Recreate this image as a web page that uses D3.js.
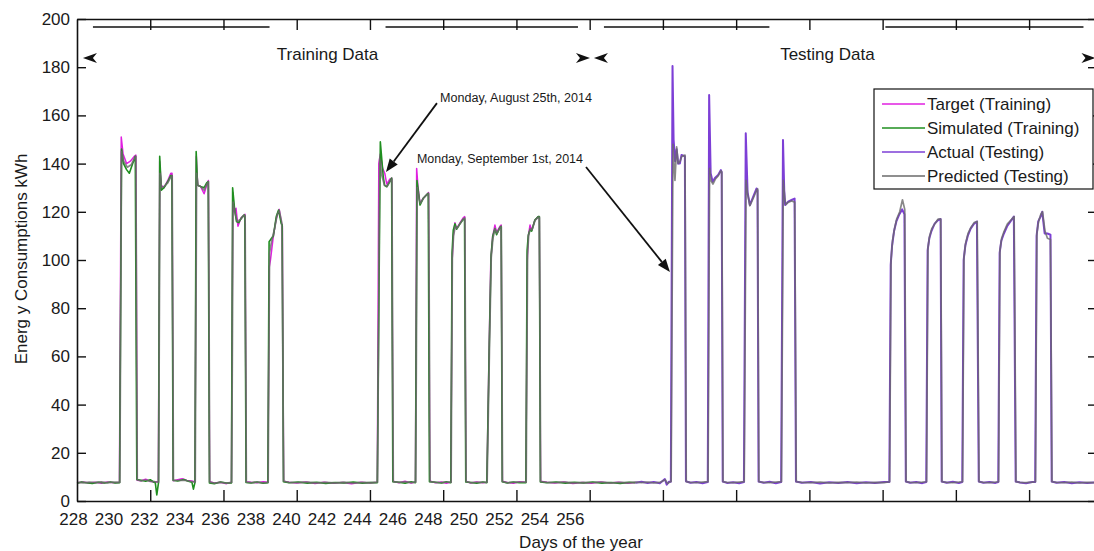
<!DOCTYPE html>
<html>
<head>
<meta charset="utf-8">
<script src="https://cdn.jsdelivr.net/npm/d3@7"></script>
<style>
  body { margin: 0; background: #fff; }
  svg { display: block; }
  text { font-family: "Liberation Sans", Arial, Helvetica, sans-serif; fill: #1a1a1a; }
</style>
</head>
<body>
<svg id="chart" width="1094" height="551"></svg>
<script>
// Hourly energy use, hours counted from the start of the record.
// Each series is a list of [hour, kWh] points.

const dayLabels = [228, 230, 232, 234, 236, 238, 240, 242, 244, 246, 248, 250, 252, 254, 256];
const hourTicks = [48, 96, 144, 192, 240, 288, 336, 384, 432, 480, 528, 576, 624];
const yTicks = [0, 20, 40, 60, 80, 100, 120, 140, 160, 180, 200];

const targetTraining = [
  [0,7.6],[4,7.9],[8,7.5],[12,7.8],[16,7.4],[20,7.9],[24,7.6],[27.8,7.7],
  [29.0,151],[30.2,144],[32.5,140],[35,141],[37.5,143],[38.6,143.5],[39.4,8.6],
  [42,8.4],[45,9],[48,8.2],[51,7.9],[53.3,8],
  [54.2,141],[55.2,131],[57,130],[59.5,133],[61.5,136],[62.3,136],[63.1,8.4],
  [66,8.8],[69,9.2],[72,8.5],[75,8.3],[77.3,8],
  [78.2,143],[79.1,131],[81,130.5],[83.3,127.5],[85,131],[86.1,133],[86.9,8],
  [90,7.5],[94,7.8],[98,7.2],[101.2,7.8],
  [102.1,128],[103,120],[104.2,121.5],[105.5,114],[107.5,117.5],[109.3,118.5],[110.1,119],[110.9,8],
  [114,7.8],[118,7.6],[122,8],[125.1,7.8],
  [126,97],[126.8,100],[128.5,109],[130.5,117],[132.5,121],[134,115.5],[134.6,114],[135.4,8.2],
  [139,7.8],[144,7.5],[150,7.9],[156,7.3],[162,7.8],[168,7.4],[174,7.7],[180,7.2],[186,7.8],[192,7.5],[196.8,7.8],
  [197.8,140],[198.8,144],[200.3,138],[201.7,136],[203,131.5],[205,133.5],[206.3,134],[207.1,8.2],
  [211,7.6],[215,8.2],[219,7.5],[221.8,7.9],
  [222.6,138],[223.4,131],[224.8,123.5],[226.9,125.6],[229,127],[230.4,128],[231.2,8.3],
  [235,7.6],[239,7.9],[242,7.4],[245,7.8],
  [245.9,100],[246.6,110],[247.7,115.5],[248.8,113],[251,115.4],[253.1,117.5],[254.1,118],[254.9,8.2],
  [258,7.5],[262,7.9],[266,7.6],[268.6,7.8],
  [270,60],[271.2,100],[272.4,109.7],[273.9,114.5],[275,111.5],[277.2,114],[278,114.5],[278.8,8.2],
  [282,7.7],[286,7.4],[290,8],[294.2,7.8],
  [295.1,100],[295.8,110],[296.9,114.5],[298,112.3],[300.1,116.6],[302.3,118],[303,117.5],[303.8,8.2],
  [308,7.8],[313,7.5],[319,7.9],[325,7.3],[331,7.7],[337,7.4],[343,7.9],[349,7.5],[355,7.8],[361,7.4],[366,7.7]
];

const simulatedTraining = [
  [0,7.4],[3,7.9],[6,7.6],[10,7.3],[14,7.8],[18,7.5],[22,7.9],[25,7.5],[27.9,7.6],
  [29.2,146],[30.5,140],[32.5,137.5],[34.3,136],[36.5,140],[38.2,143],[39.2,8.9],
  [42,8.6],[45,8.2],[48,8.8],[50.5,7.8],[51.3,7.6],[52.3,2.5],[53.4,7.5],
  [54.2,143],[55.3,129],[57,130],[59.5,132.5],[61.5,135],[62.2,135],[63.0,8.6],
  [66,8.3],[70,8.9],[73,8.2],[75.3,7.8],[76.3,4.9],[77.3,7.6],
  [78.1,145],[79,131],[81,130.5],[83.3,130],[85,132],[86,132.5],[86.8,7.5],
  [90,7.2],[94,7.9],[98,7.5],[101.2,7.5],
  [102,130],[103.2,121.6],[104.5,116],[106,115.5],[107.8,117.5],[109.5,118.7],[110,118],[110.8,7.7],
  [114,7.5],[118,7.9],[122,7.4],[125.1,7.6],
  [125.9,107.6],[127.5,109],[128.7,110],[130.6,118],[132.1,120.7],[133.9,115],[134.5,114.5],[135.3,8],
  [139,7.6],[145,7.9],[151,7.4],[157,7.8],[163,7.3],[169,7.7],[175,7.5],[181,7.9],[187,7.4],[193,7.7],[196.8,7.6],
  [198.8,149],[200.7,134.6],[201.6,131],[203,130.4],[205,132.5],[206.2,134],[207,8],
  [211,7.8],[215,7.4],[219,8],[221.8,7.6],
  [222.8,133],[223.6,129],[224.8,122.8],[226.9,125.6],[229,127],[230.2,127.7],[231,8],
  [235,7.8],[239,7.5],[242,8],[245,7.6],
  [245.8,103],[246.6,112.4],[247.7,115],[248.8,112.8],[251,115],[253,116.8],[254,117],[254.8,7.9],
  [258,7.7],[262,7.4],[266,7.9],[268.6,7.6],
  [270.2,65],[271.4,102],[272.5,110],[273.9,113],[275,110.5],[277.2,113.5],[278,114],[278.7,8],
  [282,7.5],[286,7.9],[290,7.6],[294.2,7.6],
  [295,104],[295.8,110.4],[296.9,112.5],[298,112],[300.1,116.6],[302.3,118],[303,118],[303.7,7.9],
  [308,7.6],[314,7.9],[320,7.4],[326,7.8],[332,7.5],[338,7.9],[344,7.4],[350,7.7],[356,7.3],[362,7.8],[366,7.6]
];

const actualTesting = [
  [366,7.6],[370,8],[374,7.5],[378,7.9],[382,7.4],[385.3,9.1],[386.5,6.8],[388,8],[389.2,8],
  [390.3,180.5],[391,150],[392,141],[393,146],[394,140],[395.1,140],[396.2,143.6],[398.4,143],[399.1,8.2],
  [402,7.6],[406,7.9],[410,7.4],[413.4,7.9],
  [414.3,168.5],[415.3,136],[416.6,132.5],[418.1,134],[420.2,135.3],[422,137.3],[422.5,136.5],[423.2,8.1],
  [426,7.5],[430,7.8],[434,7.4],[437.1,7.9],
  [438.3,152.6],[439.5,128],[441,122.8],[443.2,126.3],[445.4,129.7],[446,129],[446.7,8.1],
  [450,7.6],[454,8],[458,7.4],[461.5,7.9],
  [462.7,149.8],[463.5,129],[464.1,122.8],[466.1,124.2],[468.3,124.9],[470.3,125.5],[471.2,8.1],
  [475,7.6],[481,7.9],[487,7.3],[493,7.8],[499,7.5],[505,7.9],[511,7.4],[517,7.8],[523,7.5],[529,7.9],[532.4,7.9],
  [533.3,98],[534.2,106],[535.5,112],[537,116],[539,119],[540.8,121],[542.3,119],[543.2,8.1],
  [546,7.6],[550,7.9],[554,7.4],[556.6,7.9],
  [557.5,104],[558.6,109],[560,112],[562,115],[564.2,116.5],[566,117],[566.7,8.1],
  [570,7.6],[574,8],[578,7.5],[580.2,7.9],
  [581.1,100],[582.2,106],[583.8,110],[585.7,113],[587.8,115],[589.8,116],[591,8.1],
  [594,7.6],[598,7.9],[602,7.5],[603.8,7.9],
  [604.7,103],[605.8,108],[607.5,111],[609.6,114],[611.8,116],[614,118],[615.2,8.1],
  [618,7.7],[622,7.4],[626,7.9],[628,7.9],
  [628.9,110],[630,116],[631.5,118],[632.6,120],[634.2,111],[636,111],[638,110.5],[638.8,8.1],
  [642,7.6],[647,7.9],[652,7.4],[657,7.8],[662,7.5],[668.5,7.8]
];

const predicted = [
  [0,7.7],[4,7.5],[8,7.8],[12,7.6],[16,7.9],[20,7.5],[24,7.8],[28.1,7.8],
  [29.2,145],[30.6,141],[33,138.5],[35.5,139.5],[37.5,142],[38.6,143],[39.5,8.8],
  [42,8.3],[45,8.7],[48,8.1],[51,8],[53.5,7.8],
  [54.4,136],[55.4,130],[57,130.5],[59.5,132],[61.5,134.5],[62.4,135],[63.2,8.5],
  [66,8.5],[70,8.6],[73,8.3],[77.5,7.8],
  [78.4,136],[79.3,131],[81,130.5],[83.3,129],[85,131.5],[86.2,132.5],[87,7.8],
  [90,7.4],[94,7.7],[98,7.4],[101.4,7.7],
  [102.3,124],[103.3,120],[105,116],[107.5,117],[109.5,118.5],[110.2,118.5],[111,7.8],
  [114,7.6],[118,7.8],[122,7.5],[125.3,7.7],
  [126.2,103],[127.6,108],[129.5,113],[131.3,119],[132.6,120.5],[134.2,115.5],[135.5,8.2],
  [139,7.7],[145,7.6],[151,7.8],[157,7.5],[163,7.7],[169,7.5],[175,7.8],[181,7.4],[187,7.7],[193,7.6],[197,7.8],
  [198.4,142],[199.8,135],[201.5,131],[203.2,130.5],[205,132.5],[206.4,133.5],[207.3,8],
  [211,7.7],[215,7.9],[219,7.6],[222,7.8],
  [223,130],[224,126],[225,123.5],[227,125.5],[229,127],[230.5,127.5],[231.4,8],
  [235,7.7],[239,7.6],[242,7.8],[245.2,7.8],
  [246,101],[246.8,110],[247.9,114],[249,113],[251,115],[253.2,117],[254.2,117.5],[255,8],
  [258,7.6],[262,7.7],[266,7.7],[268.8,7.8],
  [270.3,62],[271.5,101],[272.6,109],[274,113],[275.2,111],[277.3,113.6],[278.1,113.8],[278.9,8],
  [282,7.6],[286,7.7],[290,7.8],[294.4,7.8],
  [295.3,102],[296,110],[297,113],[298.2,112.5],[300.2,116.4],[302.4,117.8],[303.1,117.8],[303.9,8],
  [308,7.7],[314,7.6],[320,7.8],[326,7.5],[332,7.7],[338,7.6],[344,7.8],[350,7.5],[356,7.7],[362,7.6],
  [366,7.8],[370,7.6],[374,7.8],[378,7.5],[382,7.7],[385.5,8.8],[387,7.2],[389.4,8.2],
  [390.6,148],[391.9,133],[393,147],[394,140],[395.2,141],[396.4,143],[398.5,143.5],[399.3,8],
  [402,7.7],[406,7.6],[410,7.8],[413.6,8],
  [414.6,138],[415.5,133],[416.8,131.5],[418.3,133.5],[420.3,135],[422,137],[422.6,136.5],[423.4,8],
  [426,7.7],[430,7.6],[434,7.8],[437.3,8],
  [438.5,133],[439.6,127],[441,122.5],[443.3,125.8],[445.4,129],[446.1,129.5],[446.9,8],
  [450,7.7],[454,7.6],[458,7.8],[461.7,8],
  [462.9,133],[463.8,126],[464.5,123],[466.3,124],[468.4,124.5],[470.4,124],[471.4,8],
  [475,7.7],[481,7.6],[487,7.8],[493,7.5],[499,7.7],[505,7.6],[511,7.8],[517,7.5],[523,7.7],[529,7.6],[532.6,8],
  [533.5,100],[534.5,108],[535.8,113],[537.2,117],[539.2,120],[541,125],[542.5,121],[543.4,8],
  [546,7.7],[550,7.6],[554,7.8],[556.8,8],
  [557.7,105],[558.8,110],[560.2,113],[562.2,115],[564.4,117],[566.1,117],[566.9,8],
  [570,7.7],[574,7.6],[578,7.8],[580.4,8],
  [581.3,101],[582.4,107],[584,111],[585.9,113.5],[588,115.5],[590,116],[591.2,8],
  [594,7.7],[598,7.6],[602,7.8],[604,8],
  [604.9,104],[606,109],[607.7,112],[609.8,115],[612,116.5],[614.2,118],[615.4,8],
  [618,7.7],[622,7.6],[626,7.8],[628.2,8],
  [629.1,111],[630.2,116],[631.7,119],[632.8,120],[634.4,112],[636,109],[638,108.5],[639,8],
  [642,7.7],[647,7.6],[652,7.8],[657,7.5],[662,7.7],[668.5,7.6]
];

const seriesNames = ["Target (Training)", "Simulated (Training)", "Actual (Testing)", "Predicted (Testing)"];
const seriesColors = ["#e020e0", "#1f8f1f", "#7d3fd6", "#6a6a6a"];

// Span markers above the curves: start hour, end hour, label centre hour.
const spans = [
  { label: "Training Data", from: 3.9, to: 336.2, mid: 164.2 },
  { label: "Testing Data", from: 338.8, to: 667.5, mid: 491.8 }
];

// Call-outs: text anchor, arrow tail and arrow tip as [hour, kWh].
const notes = [
  { label: "Monday, August 25th, 2014", at: [237.9, 165.6], tail: [235.9, 165.1], tip: [202.5, 136.5], len: 152 },
  { label: "Monday, September 1st, 2014", at: [222.8, 140.2], tail: [333.6, 138.6], tip: [388.6, 95.0], len: 166 }
];

const svg = d3.select("#chart");
const x = d3.scaleLinear().domain([0, 668.5]).range([77, 1097]);
const y = d3.scaleLinear().domain([0, 200]).range([501, 19]);
const dayScale = d3.scaleLinear().domain([228, 256]).range([x(0) - 4, x(323)]);

const line = d3.line().x(d => x(d[0])).y(d => y(d[1]));
const plot = svg.append("g");
const allSeries = [targetTraining, simulatedTraining, actualTesting, predicted];
const widths = [1.5, 1.6, 2.0, 1.7];
const opacities = [1, 1, 1, 0.8];
allSeries.forEach((s, i) => {
  plot.append("path").datum(s).attr("d", line)
    .attr("fill", "none").attr("stroke", seriesColors[i])
    .attr("stroke-width", widths[i]).attr("stroke-opacity", opacities[i])
    .attr("stroke-linejoin", "round");
});

// Axes (box with inward ticks)
const axisStyle = g => {
  g.selectAll("path.domain").attr("stroke", "#111").attr("stroke-width", 1.6);
  g.selectAll(".tick line").attr("stroke", "#111").attr("stroke-width", 1.4);
  g.selectAll("text").attr("font-size", 17).attr("fill", "#1a1a1a")
    .style("font-family", "'Liberation Sans', Arial, sans-serif");
};
svg.append("g").attr("transform", `translate(${x(0)},0)`)
  .call(d3.axisLeft(y).tickValues(yTicks).tickSizeInner(-9).tickSizeOuter(0).tickPadding(7))
  .call(axisStyle);
svg.append("g").attr("transform", `translate(${x(668.5)},0)`)
  .call(d3.axisRight(y).tickValues(yTicks).tickSizeInner(-9).tickSizeOuter(0).tickFormat(""))
  .call(axisStyle);
svg.append("g").attr("transform", `translate(0,${y(0)})`)
  .call(d3.axisBottom(x).tickValues(hourTicks).tickSizeInner(-11).tickSizeOuter(0).tickFormat(""))
  .call(axisStyle);
svg.append("g").attr("transform", `translate(0,${y(200)})`)
  .call(d3.axisTop(x).tickValues(hourTicks).tickSizeInner(-11).tickSizeOuter(0).tickFormat(""))
  .call(axisStyle);
svg.append("g").attr("transform", `translate(0,${y(0)})`)
  .call(d3.axisBottom(dayScale).tickValues(dayLabels).tickSize(0).tickPadding(12).tickFormat(d3.format("d")))
  .call(g => g.select("path.domain").remove())
  .call(axisStyle);

// Axis titles
svg.append("text").attr("x", 581).attr("y", 548).attr("text-anchor", "middle")
  .attr("font-size", 17).text("Days of the year");
svg.append("text").attr("transform", "translate(27,259) rotate(-90)").attr("text-anchor", "middle")
  .attr("font-size", 17).text("Energ y Consumptions kWh");

// Span markers
const lineRowY = y(200) + 8;
const arrowRowY = 58;
const chevron = (tipX, yc, dir) =>
  `M${tipX},${yc}L${tipX - dir * 14},${yc - 5}L${tipX - dir * 10},${yc}L${tipX - dir * 14},${yc + 5}Z`;
spans.forEach(s => {
  const x0 = x(s.from), x1 = x(s.to), xm = x(s.mid);
  const gap = 58;
  svg.append("line").attr("x1", x0 + 10).attr("x2", xm - gap).attr("y1", lineRowY).attr("y2", lineRowY)
    .attr("stroke", "#111").attr("stroke-width", 1.5);
  svg.append("line").attr("x1", xm + gap).attr("x2", x1 - 12).attr("y1", lineRowY).attr("y2", lineRowY)
    .attr("stroke", "#111").attr("stroke-width", 1.5);
  svg.append("path").attr("d", chevron(x0, arrowRowY, -1)).attr("fill", "#111");
  svg.append("path").attr("d", chevron(x1, arrowRowY, 1)).attr("fill", "#111");
  svg.append("text").attr("x", xm).attr("y", arrowRowY + 2).attr("text-anchor", "middle")
    .attr("font-size", 17).text(s.label);
});

// Call-outs
notes.forEach(n => {
  svg.append("text").attr("x", x(n.at[0])).attr("y", y(n.at[1]))
    .attr("font-size", 12).attr("textLength", n.len).attr("lengthAdjust", "spacingAndGlyphs")
    .text(n.label);
  const tx = x(n.tail[0]), ty = y(n.tail[1]), px = x(n.tip[0]), py = y(n.tip[1]);
  const ang = Math.atan2(py - ty, px - tx);
  const L = 13, W = 5;
  const bx = px - L * Math.cos(ang), by = py - L * Math.sin(ang);
  svg.append("line").attr("x1", tx).attr("y1", ty).attr("x2", bx).attr("y2", by)
    .attr("stroke", "#111").attr("stroke-width", 1.8);
  svg.append("path").attr("fill", "#111")
    .attr("d", `M${px},${py}L${bx - W * Math.sin(ang)},${by + W * Math.cos(ang)}L${bx + W * Math.sin(ang)},${by - W * Math.cos(ang)}Z`);
});

// Legend
const lg = svg.append("g");
lg.append("rect").attr("x", 874).attr("y", 89).attr("width", 219).attr("height", 100)
  .attr("fill", "#fff").attr("stroke", "#111").attr("stroke-width", 1.2);
seriesNames.forEach((name, i) => {
  const yy = 104 + i * 24;
  lg.append("line").attr("x1", 882).attr("x2", 925).attr("y1", yy).attr("y2", yy)
    .attr("stroke", seriesColors[i]).attr("stroke-width", 1.6);
  lg.append("text").attr("x", 927).attr("y", yy).attr("dy", "0.35em")
    .attr("font-size", 17).text(name);
});
</script>
</body>
</html>
